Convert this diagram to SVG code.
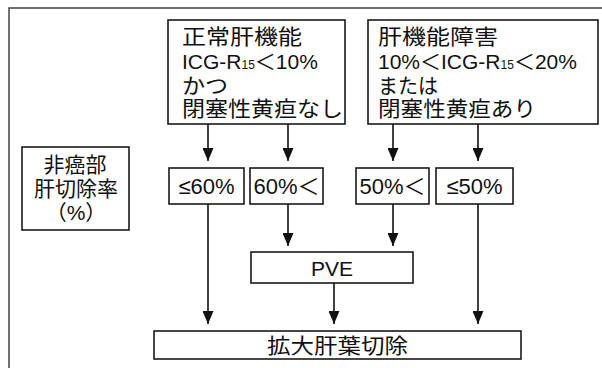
<svg xmlns="http://www.w3.org/2000/svg" width="602" height="368" viewBox="0 0 602 368">
<defs>
<style>
.box{fill:#fff;stroke:#1a1a1a;stroke-width:1.6}
.frame{fill:none;stroke:#444;stroke-width:1.5}
.t{font-family:"Liberation Sans","Noto Sans CJK JP",sans-serif;fill:#111}
.big{font-size:21px}
.mid{font-size:21px}
.sub{font-size:12px}
.c{text-anchor:middle}
.ln{stroke:#111;stroke-width:1.6;fill:none;marker-end:url(#ah)}
</style>
<marker id="ah" markerUnits="userSpaceOnUse" markerWidth="13" markerHeight="11" viewBox="0 0 13 11" refX="13" refY="5.5" orient="auto">
<path d="M0,0 L13,5.5 L0,11 Z" fill="#111"/>
</marker>
</defs>
<path class="frame" d="M9,368 V8 H602"/>
<g id="normal">
<rect class="box" x="168" y="20" width="177" height="104"/>
<text class="t big" x="182" y="44" textLength="120" lengthAdjust="spacingAndGlyphs">正常肝機能</text>
<text class="t mid" x="182" y="69">ICG-R<tspan class="sub">15</tspan>＜10%</text>
<text class="t big" x="182" y="93" textLength="46" lengthAdjust="spacingAndGlyphs">かつ</text>
<text class="t big" x="182" y="116" textLength="161" lengthAdjust="spacingAndGlyphs">閉塞性黄疸なし</text>
</g>
<g id="impaired">
<rect class="box" x="368" y="20" width="230" height="104"/>
<text class="t big" x="378" y="44" textLength="120" lengthAdjust="spacingAndGlyphs">肝機能障害</text>
<text class="t mid" x="378" y="69">10%＜ICG-R<tspan class="sub">15</tspan>＜20%</text>
<text class="t big" x="378" y="93" textLength="60" lengthAdjust="spacingAndGlyphs">または</text>
<text class="t big" x="378" y="116" textLength="158" lengthAdjust="spacingAndGlyphs">閉塞性黄疸あり</text>
</g>
<g id="label">
<rect class="box" x="22" y="147" width="107" height="83"/>
<text class="t c" x="75" y="172" font-size="21">非癌部</text>
<text class="t c" x="76" y="196" font-size="21">肝切除率</text>
<text class="t c" x="76" y="220" font-size="21">（%）</text>
</g>
<g id="le60">
<rect class="box" x="169" y="168" width="75" height="36"/>
<text class="t c" x="206.5" y="194" font-size="22">≤60%</text>
</g>
<g id="gt60">
<rect class="box" x="250" y="168" width="73" height="36"/>
<text class="t c" x="286.5" y="194" font-size="22">60%＜</text>
</g>
<g id="gt50">
<rect class="box" x="356" y="168" width="73" height="36"/>
<text class="t c" x="392.5" y="194" font-size="22">50%＜</text>
</g>
<g id="le50">
<rect class="box" x="436" y="168" width="77" height="36"/>
<text class="t c" x="474.5" y="194" font-size="22">≤50%</text>
</g>
<g id="pve">
<rect class="box" x="251" y="252" width="162" height="31"/>
<text class="t c" x="332" y="276" font-size="21">PVE</text>
</g>
<g id="resection">
<rect class="box" x="154" y="331" width="367" height="28"/>
<text class="t c" x="337.5" y="353" font-size="21" textLength="141" lengthAdjust="spacingAndGlyphs">拡大肝葉切除</text>
</g>
<g id="connectors">
<path class="ln" d="M208,124 V161"/>
<path class="ln" d="M288,124 V161"/>
<path class="ln" d="M393,124 V161"/>
<path class="ln" d="M478,124 V161"/>
<path class="ln" d="M288,204 V246"/>
<path class="ln" d="M393,204 V246"/>
<path class="ln" d="M208,204 V324"/>
<path class="ln" d="M334,283 V324"/>
<path class="ln" d="M478,204 V324"/>
</g>
</svg>
